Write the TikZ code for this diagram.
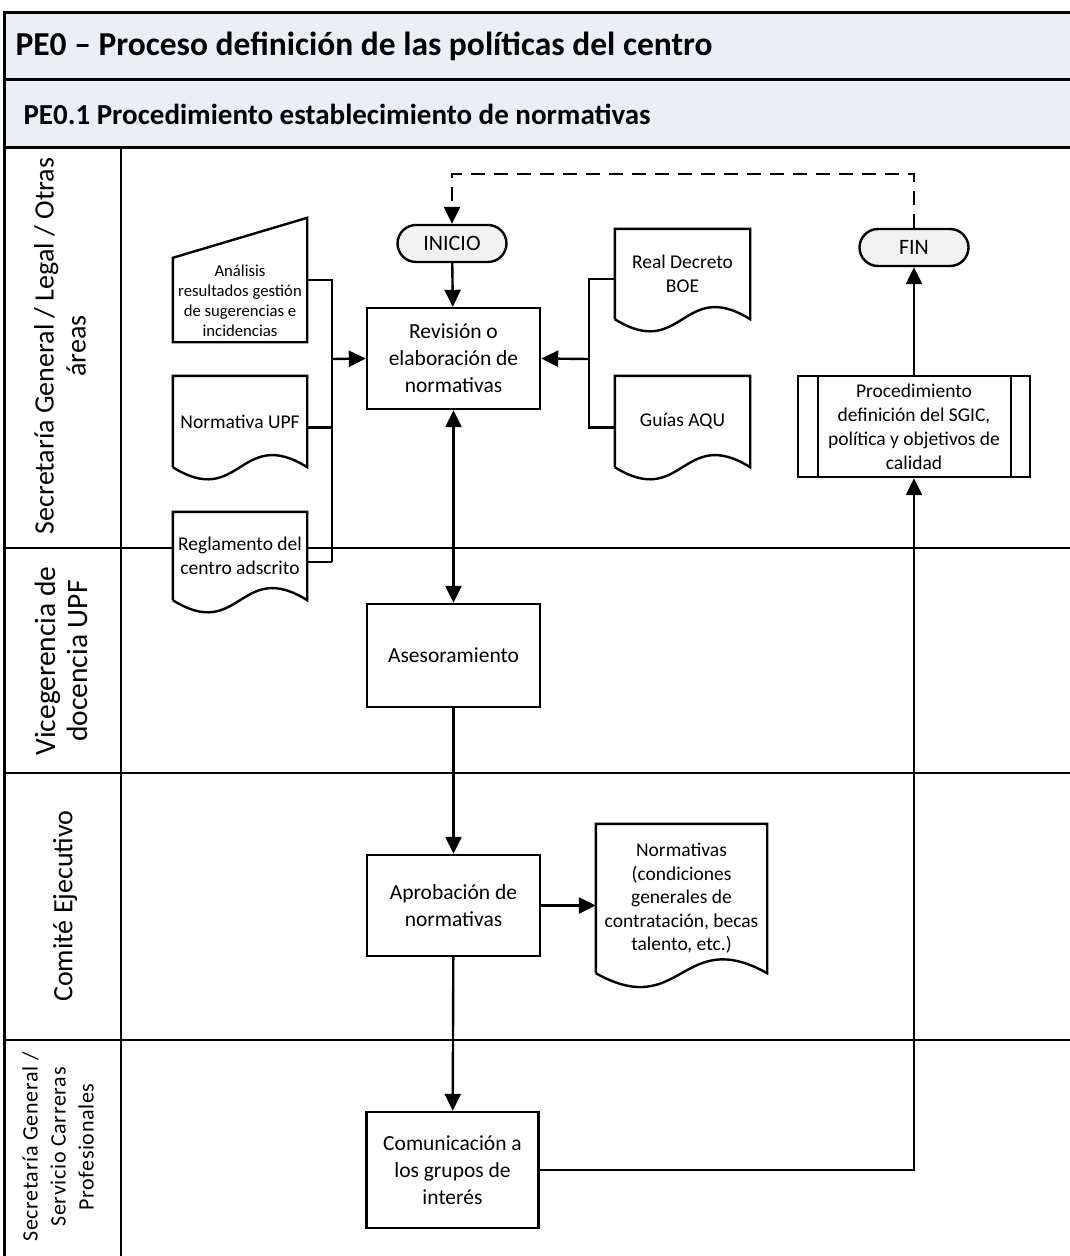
\documentclass[tikz,border=0pt]{standalone}
\usepackage{fontspec}
\setmainfont{Carlito}
\usetikzlibrary{arrows.meta,calc,shapes.misc}
\definecolor{bandfill}{HTML}{EBEEF4}
\definecolor{termfill}{HTML}{F2F2F2}

% outline of a document symbol: straight top and sides, wavy bottom
\newcommand\docoutline[2]{%
  \draw[line width=2.4pt,line join=miter]
    (#1.south west) -- (#1.north west) -- (#1.north east) -- (#1.south east)
    .. controls ($(#1.south east)!0.5!(#1.south west)+(0,-#2)$)
           and ($(#1.south east)!0.5!(#1.south west)+(0,#2)$) .. (#1.south west);}

\begin{document}
\begin{tikzpicture}[x=1pt,y=-1pt,
  tip/.tip={Triangle[length=17pt,width=16pt]},
  frame/.style={line width=3pt},
  lane/.style={line width=2.4pt},
  flow/.style={line width=2.4pt,-tip},
  both/.style={line width=2.4pt,tip-tip},
  link/.style={line width=2.4pt},
  loop/.style={line width=2.4pt,dash pattern=on 14pt off 9pt,-tip},
  box/.style={draw,line width=2.4pt,fill=white,rectangle,align=center,inner sep=0pt,
    minimum width=173pt,font=\fontsize{21.5}{27}\selectfont},
  term/.style={draw,line width=2.4pt,fill=termfill,rounded rectangle,inner sep=0pt,
    minimum width=109pt,minimum height=37pt,font=\fontsize{22}{26}\selectfont},
  docnode/.style={fill=white,rectangle,align=center,inner sep=0pt,
    font=\fontsize{19.5}{23.5}\selectfont},
  lanelabel/.style={rotate=90,align=center,font=\fontsize{28}{32}\selectfont},
]
\useasboundingbox (0,0) rectangle (1070,1256);
\fill[white] (0,0) rectangle (1070,1256);

% header bands
\draw[frame,fill=bandfill] (4,12) rectangle (1080,79);
\draw[frame,fill=bandfill] (4,79) rectangle (1080,147);
\node[anchor=west,font=\fontsize{33.5}{38}\selectfont\bfseries] (title) at (12,46)
  {PE0 – Proceso definición de las políticas del centro};
\node[anchor=west,font=\fontsize{29}{33}\selectfont\bfseries] (subtitle) at (20,114)
  {PE0.1 Procedimiento establecimiento de normativas};

% swimlanes
\draw[frame] (4,147) -- (4,1262);
\draw[lane] (121,147) -- (121,1262);
\draw[lane] (4,548) -- (1080,548);
\draw[lane] (4,773) -- (1080,773);
\draw[lane] (4,1040) -- (1080,1040);

\node[lanelabel] (l1) at (60,346) {Secretaría General / Legal / Otras\\áreas};
\node[lanelabel,font=\fontsize{29.5}{32}\selectfont] (l2) at (61,661) {Vicegerencia de\\docencia UPF};
\node[lanelabel] (l3) at (65,906) {Comité Ejecutivo};
\node[lanelabel,font=\fontsize{22}{28}\selectfont\addfontfeatures{LetterSpace=3}] (l4) at (58,1147)
  {Secretaría General /\\Servicio Carreras\\Profesionales};

% terminals
\node[term] (ini) at (452,243.5) {INICIO};
\node[term] (fin) at (914,247.5) {FIN};

% process boxes
\node[box,minimum height=101pt] (rev) at (453.5,358.5) {Revisión o\\elaboración de\\normativas};
\node[box,minimum height=103pt] (ases) at (453.5,655.5) {Asesoramiento};
\node[box,minimum height=101pt] (apr) at (453.5,905.5) {Aprobación de\\normativas};
\node[box,minimum height=116pt,minimum width=172pt] (com) at (452.5,1170) {Comunicación a\\los grupos de\\interés};

% predefined process
\node[box,minimum width=232pt,minimum height=101pt,font=\fontsize{19.5}{24}\selectfont] (proc) at (914,426.5)
  {Procedimiento\\definición del SGIC,\\política y objetivos de\\calidad};
\draw[line width=2.4pt] ($(proc.north west)+(21,0)$) -- ($(proc.south west)+(21,0)$);
\draw[line width=2.4pt] ($(proc.north east)+(-20,0)$) -- ($(proc.south east)+(-20,0)$);

% manual input
\node[rectangle,minimum width=134pt,minimum height=124pt,inner sep=0pt] (anal) at (240,280) {};
\filldraw[line width=2.4pt,fill=white,line join=miter]
  ($(anal.north west)+(0,40)$) -- (anal.north east) -- (anal.south east) -- (anal.south west) -- cycle;
\node[align=center,inner sep=0pt,font=\fontsize{16.7}{20}\selectfont] (analtxt) at (240,301)
  {Análisis\\resultados gestión\\de sugerencias e\\incidencias};

% documents
\node[docnode,minimum width=134pt,minimum height=91pt] (nupf) at (240,421.5) {Normativa UPF};
\docoutline{nupf}{42}
\node[docnode,minimum width=134pt,minimum height=88pt] (regl) at (240,556) {Reglamento del\\centro adscrito};
\docoutline{regl}{42}
\node[docnode,minimum width=135pt,minimum height=90pt] (rd) at (682.5,274) {Real Decreto\\BOE};
\docoutline{rd}{42}
\node[docnode,minimum width=135pt,minimum height=91pt] (guias) at (682.5,421.5) {Guías AQU};
\docoutline{guias}{42}
\node[docnode,minimum width=171pt,minimum height=149pt] (nrm) at (681.5,898.5)
  {Normativas\\(condiciones\\generales de\\contratación, becas\\talento, etc.)};
\docoutline{nrm}{48}

% inputs gathered on the left
\coordinate (lj) at (332,359);
\draw[link] ($(anal.east)$) -| (332,562);
\draw[link] ($(nupf.east)+(0,6)$) -- ($(nupf.east)+(25,6)$);
\draw[link] ($(regl.east)+(0,6)$) -- ($(regl.east)+(25,6)$);
\draw[flow] (lj) -- (rev.west);

% inputs gathered on the right
\coordinate (rj) at (589,359);
\draw[link] ($(rd.west)+(0,5)$) -| ($(guias.west)+(-26,6)$) -- ($(guias.west)+(0,6)$);
\draw[flow] (rj) -- (rev.east);

% main flow
\draw[flow] (ini) -- (rev);
\draw[both] (rev) -- (ases);
\draw[flow] (ases) -- (apr);
\draw[flow] (apr) -- (nrm.west |- apr.east);
\draw[flow] (apr) -- (com);
\draw[flow] (com.east) -| (proc.south);
\draw[flow] (proc) -- (fin);
\coordinate (back) at (914,174);
\draw[loop] (fin.north) -- (back) -| (ini.north);

\end{tikzpicture}
\end{document}
